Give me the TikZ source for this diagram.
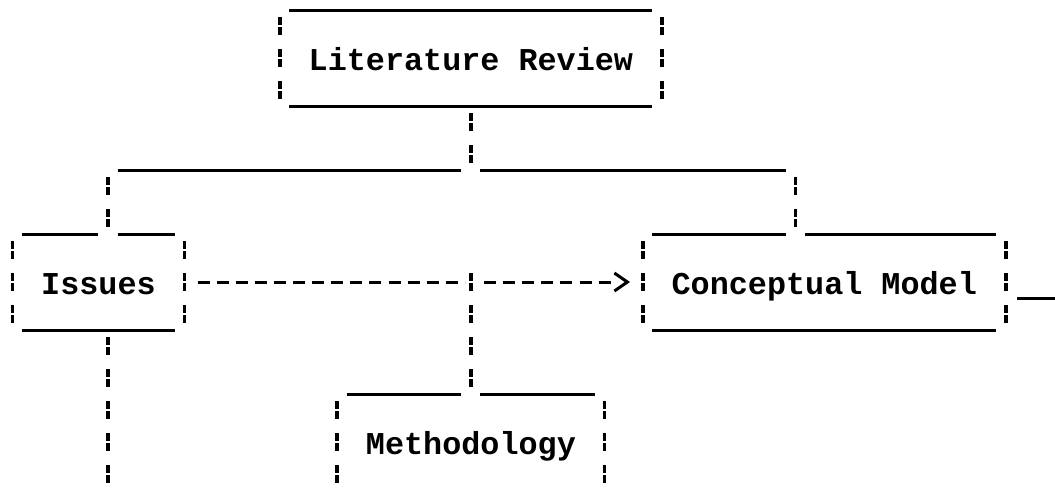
\documentclass[tikz,border=0pt]{standalone}
\usepackage{fontspec}
\setmonofont{Liberation Mono}
\usetikzlibrary{arrows.meta,decorations.markings}

\tikzset{
  bar/.style={line width=1.8pt, dash pattern=on 4pt off 1pt on 4pt off 7pt, dash phase=12.5pt},
  rule/.style={line width=1.5pt},
  flow/.style={line width=1.5pt, dash pattern=on 6pt off 3.55pt, dash phase=6pt},
  chevron/.style={postaction={decorate}, decoration={markings,
    mark=at position -6.4pt with {\arrow[line width=1.5pt]{Straight Barb[length=6.5pt, width=9pt]}}}},
  label/.style={font=\ttfamily\bfseries\fontsize{15.9pt}{16pt}\selectfont, inner sep=0pt, anchor=base}
}

\begin{document}
\begin{tikzpicture}[x=9.55pt, y=-16pt]
\useasboundingbox (-0.654,0.1875) rectangle (54.58,15.406);

\node[label] (litrev) at (24,2.375) {Literature Review};
\node[label] (issues) at (4.5,9.375) {Issues};
\node[label] (concept) at (42.5,9.375) {Conceptual Model};
\node[label] (method) at (24,14.375) {Methodology};

\coordinate (litbot) at (24,3.5);
\coordinate (fork) at (24,5.5);
\coordinate (isstop) at (5,7.5);
\coordinate (contop) at (41,7.5);
\coordinate (issR) at (9,9);
\coordinate (jn) at (24,9);
\coordinate (conL) at (33,9);
\coordinate (mettop) at (24,12.5);

% literature review
\draw[rule] (14.5,0.5) -- (33.5,0.5);
\draw[rule] (14.5,3.5) -- (33.5,3.5);
\draw[bar] (14,0.5) -- (14,3.5);
\draw[bar] (34,0.5) -- (34,3.5);
\draw[bar] (litbot) -- (fork);
\draw[rule] (5.5,5.5) -- (23.5,5.5);
\draw[rule] (24.5,5.5) -- (40.5,5.5);

% issues
\draw[bar] (5,5.5) -- (isstop);
\draw[rule] (0.5,7.5) -- (4.5,7.5);
\draw[rule] (5.5,7.5) -- (8.5,7.5);
\draw[bar] (0,7.5) -- (0,10.5);
\draw[bar] (9,7.5) -- (9,10.5);
\draw[rule] (0.5,10.5) -- (8.5,10.5);
\draw[bar] (5,10.5) -- (5,16.5);

% conceptual model
\draw[bar] (41,5.5) -- (contop);
\draw[rule] (33.5,7.5) -- (40.5,7.5);
\draw[rule] (41.5,7.5) -- (51.5,7.5);
\draw[bar] (33,7.5) -- (33,10.5);
\draw[bar] (52,7.5) -- (52,10.5);
\draw[rule] (33.5,10.5) -- (51.5,10.5);
\draw[rule] (52.6,9.5) -- (55,9.5);

% arrow
\draw[flow, shorten <=3pt, shorten >=3pt] (issR) -- (jn);
\draw[flow, shorten <=3pt, shorten >=16.1pt, chevron] (jn) -- (conL);

% methodology
\draw[bar] (24,8.5) -- (mettop);
\draw[rule] (17.5,12.5) -- (23.5,12.5);
\draw[rule] (24.5,12.5) -- (30.5,12.5);
\draw[bar] (17,12.5) -- (17,16.5);
\draw[bar] (31,12.5) -- (31,16.5);
\draw[rule] (17.5,15.5) -- (30.5,15.5);
\end{tikzpicture}
\end{document}
